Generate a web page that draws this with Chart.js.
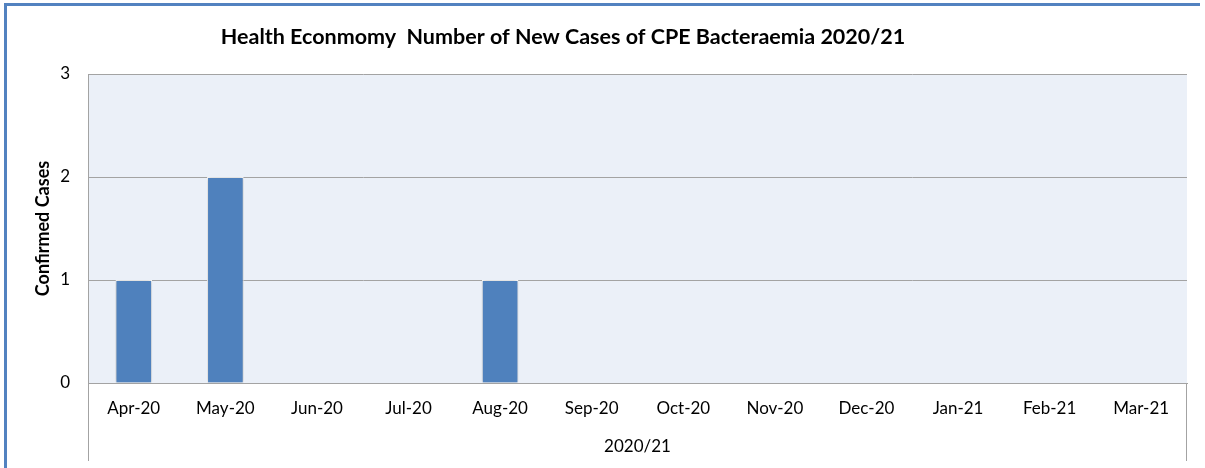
<!DOCTYPE html>
<html>
<head>
<meta charset="utf-8">
<script src="https://cdn.jsdelivr.net/npm/chart.js@4"></script>
<style>
  html, body { margin: 0; padding: 0; background: #ffffff; }
  #wrap { width: 1205px; height: 468px; }
</style>
</head>
<body>
<div id="wrap"><canvas id="chart" width="1205" height="468"></canvas></div>
<script>
// Monthly categories for the financial year
const months = ['Apr-20', 'May-20', 'Jun-20', 'Jul-20', 'Aug-20', 'Sep-20',
                'Oct-20', 'Nov-20', 'Dec-20', 'Jan-21', 'Feb-21', 'Mar-21'];
// Confirmed new CPE bacteraemia cases per month
const confirmedCases = [1, 2, 0, 0, 1, 0, 0, 0, 0, 0, 0, 0];
// Axis texts
const chartTitle = 'Health Econmomy  Number of New Cases of CPE Bacteraemia 2020/21';
const yAxisTitle = 'Confirmed Cases';
const xAxisTitle = '2020/21';
const yTickValues = [0, 1, 2, 3];

const FONT = 'Lato, "Open Sans", sans-serif';
const GRID = '#a3a3a3';

// Page frame, plot background, title and the outer axis group lines
const decor = {
  id: 'decor',
  beforeDraw(chart) {
    const ctx = chart.ctx;
    const a = chart.chartArea;
    ctx.save();
    ctx.fillStyle = '#ffffff';
    ctx.fillRect(0, 0, chart.width, chart.height);
    ctx.fillStyle = '#ebf0f8';
    ctx.fillRect(a.left, a.top, a.right - a.left, a.bottom - a.top);
    ctx.fillStyle = '#5282c0';
    ctx.fillRect(4, 3, 1196, 3);
    ctx.fillRect(4, 3, 3, chart.height - 3);
    ctx.fillStyle = '#000000';
    ctx.font = 'bold 21.5px ' + FONT;
    ctx.textAlign = 'center';
    ctx.textBaseline = 'middle';
    ctx.fillText(chartTitle, 563, 37);
    ctx.restore();
  },
  afterDraw(chart) {
    const ctx = chart.ctx;
    const a = chart.chartArea;
    ctx.save();
    ctx.strokeStyle = GRID;
    ctx.lineWidth = 1;
    ctx.beginPath();
    ctx.moveTo(a.left + 0.5, a.bottom);
    ctx.lineTo(a.left + 0.5, 461);
    ctx.moveTo(a.right - 0.5, a.bottom);
    ctx.lineTo(a.right - 0.5, 461);
    ctx.stroke();
    ctx.restore();
  },
  beforeDatasetsDraw(chart) {
    const ctx = chart.ctx;
    ctx.save();
    ctx.shadowColor = 'rgba(0,0,0,0.28)';
    ctx.shadowBlur = 4;
  },
  afterDatasetsDraw(chart) {
    chart.ctx.restore();
  }
};

new Chart(document.getElementById('chart'), {
  type: 'bar',
  data: {
    labels: months,
    datasets: [{
      label: yAxisTitle,
      data: confirmedCases,
      backgroundColor: '#4f81bd',
      borderColor: '#ffffff',
      borderWidth: 1,
      borderSkipped: 'bottom',
      categoryPercentage: 1,
      barPercentage: 0.4
    }]
  },
  options: {
    responsive: false,
    animation: false,
    devicePixelRatio: 1,
    layout: { padding: { top: 74, right: 18, bottom: 0, left: 0 } },
    plugins: {
      legend: { display: false },
      title: { display: false },
      tooltip: { enabled: false }
    },
    scales: {
      x: {
        grid: { display: false, drawTicks: false },
        border: { display: true, color: GRID, width: 1 },
        ticks: { color: '#000000', font: { family: FONT, size: 17 }, padding: 15, maxRotation: 0, autoSkip: false },
        title: { display: true, text: xAxisTitle, color: '#000000', font: { family: FONT, size: 17 }, padding: { top: 0, bottom: 11 } },
        afterFit(scale) { scale.height = 85; }
      },
      y: {
        min: 0,
        max: 3,
        afterBuildTicks(scale) { scale.ticks = yTickValues.map(v => ({ value: v })); },
        grid: { color: GRID, lineWidth: 1, drawTicks: false },
        border: { display: true, color: GRID, width: 1 },
        ticks: { color: '#000000', font: { family: FONT, size: 17 }, padding: 18 },
        title: { display: true, text: yAxisTitle, color: '#000000', font: { family: FONT, size: 18, weight: 'bold' }, padding: { top: 32, bottom: 0 } },
        afterFit(scale) { scale.width = 88; }
      }
    }
  },
  plugins: [decor]
});
</script>
</body>
</html>
